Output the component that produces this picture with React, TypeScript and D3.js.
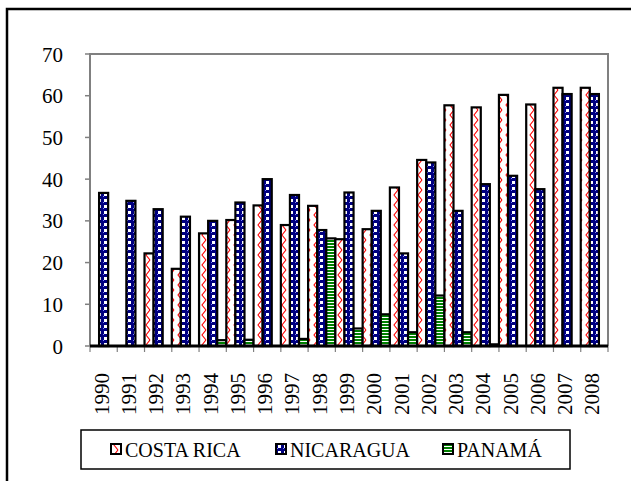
import * as d3 from 'd3';

const years = ['1990', '1991', '1992', '1993', '1994', '1995', '1996', '1997', '1998', '1999', '2000', '2001', '2002', '2003', '2004', '2005', '2006', '2007', '2008'];
const costaRica = [0, 0, 22.2, 18.5, 27.0, 30.2, 33.7, 29.0, 33.6, 25.6, 28.0, 38.0, 44.6, 57.7, 57.2, 60.2, 57.9, 61.9, 61.9];
const nicaragua = [36.7, 34.8, 32.8, 31.0, 30.0, 34.4, 40.0, 36.2, 27.8, 36.8, 32.4, 22.2, 44.0, 32.4, 38.8, 40.8, 37.6, 60.4, 60.4];
const panama = [0, 0, 0, 0, 1.4, 1.5, 0, 1.7, 25.8, 4.2, 7.6, 3.3, 12.1, 3.3, 0.4, 0, 0, 0, 0];
const seriesNames = ['COSTA RICA', 'NICARAGUA', 'PANAMÁ'];
const yTicks = [0, 10, 20, 30, 40, 50, 60, 70];

const TXT = { fontFamily: '"Tinos"' };
const W = 631, H = 481;
const left = 90, right = 608, top = 54, bottom = 346;

const fills = ['url(#p-cr)', 'url(#p-ni)', 'url(#p-pa)'];
const legendMarkX = [111, 276, 443];
const legendTextX = [125, 290, 457];

export default function App() {
  const x0 = d3.scaleBand<string>().domain(years).range([left, right]).padding(0);
  const x1 = d3.scaleBand<string>().domain(seriesNames).range([0, x0.bandwidth()]).padding(0);
  const y = d3.scaleLinear().domain([0, 70]).range([bottom, top]);
  const data = [costaRica, nicaragua, panama];

  const bars: JSX.Element[] = [];
  years.forEach((yr, i) => {
    seriesNames.forEach((s, k) => {
      const v = data[k][i];
      if (v <= 0) return;
      bars.push(
        <rect key={`${yr}-${k}`} x={(x0(yr) ?? 0) + (x1(s) ?? 0)} y={y(v)}
          width={x1.bandwidth()} height={y(0) - y(v)}
          fill={fills[k]} stroke="#000" strokeWidth={2.2} />
      );
    });
  });

  return (
    <svg width={W} height={H} style={{ position: 'absolute', left: 0, top: 0, display: 'block' }}>
      <defs>
        <pattern id="p-cr" patternUnits="userSpaceOnUse" width={8} height={10}>
          <rect width={8} height={10} fill="#fff" />
          <path d="M6,0 L2,5 L6,10" fill="none" stroke="#ff0000" strokeWidth={1.1} />
        </pattern>
        <pattern id="p-ni" patternUnits="userSpaceOnUse" width={6} height={6}>
          <rect width={6} height={6} fill="#000080" />
          <rect x={2} y={1} width={3} height={3} fill="#fff" />
          <rect x={1} y={4} width={1} height={1} fill="#8080ff" />
        </pattern>
        <pattern id="p-pa" patternUnits="userSpaceOnUse" width={4} height={3}>
          <rect width={4} height={3} fill="#008000" />
          <rect y={2} width={4} height={1} fill="#fff" />
        </pattern>
      </defs>
      <rect width={W} height={H} fill="#fff" />

      {/* outer frame */}
      <rect x={7} y={9} width={700} height={600} fill="none" stroke="#000" strokeWidth={2.5} />

      {/* plot border */}
      <path d={`M${left},${bottom} L${left},${top} L${right},${top} L${right},${bottom}`}
        fill="none" stroke="#808080" strokeWidth={2} />

      {yTicks.map(t => (
        <g key={t}>
          <line x1={left - 5} x2={left} y1={y(t)} y2={y(t)} stroke="#808080" strokeWidth={1.5} />
          <text x={63} y={y(t) + 7.5} textAnchor="end" fontSize={21} style={TXT}>{t}</text>
        </g>
      ))}

      {bars}

      {d3.range(years.length + 1).map(i => {
        const tx = left + i * x0.bandwidth();
        return <line key={i} x1={tx} x2={tx} y1={bottom} y2={bottom + 6} stroke="#808080" strokeWidth={1.2} />;
      })}

      <line x1={left} x2={right} y1={y(0)} y2={y(0)} stroke="#000" strokeWidth={3} />

      {years.map(yr => {
        const cx = (x0(yr) ?? 0) + x0.bandwidth() / 2;
        return (
          <text key={yr} transform={`translate(${cx + 5},373) rotate(-90)`} textAnchor="end"
            fontSize={21} style={TXT}>{yr}</text>
        );
      })}

      {/* legend */}
      <rect x={81} y={430} width={489} height={39} fill="#fff" stroke="#000" strokeWidth={1.5} />
      {seriesNames.map((s, k) => (
        <g key={s}>
          <rect x={legendMarkX[k]} y={444} width={10} height={10} fill={fills[k]} stroke="#000" strokeWidth={2} />
          <text x={legendTextX[k]} y={456.5} fontSize={20} style={TXT}>{s}</text>
        </g>
      ))}
    </svg>
  );
}
